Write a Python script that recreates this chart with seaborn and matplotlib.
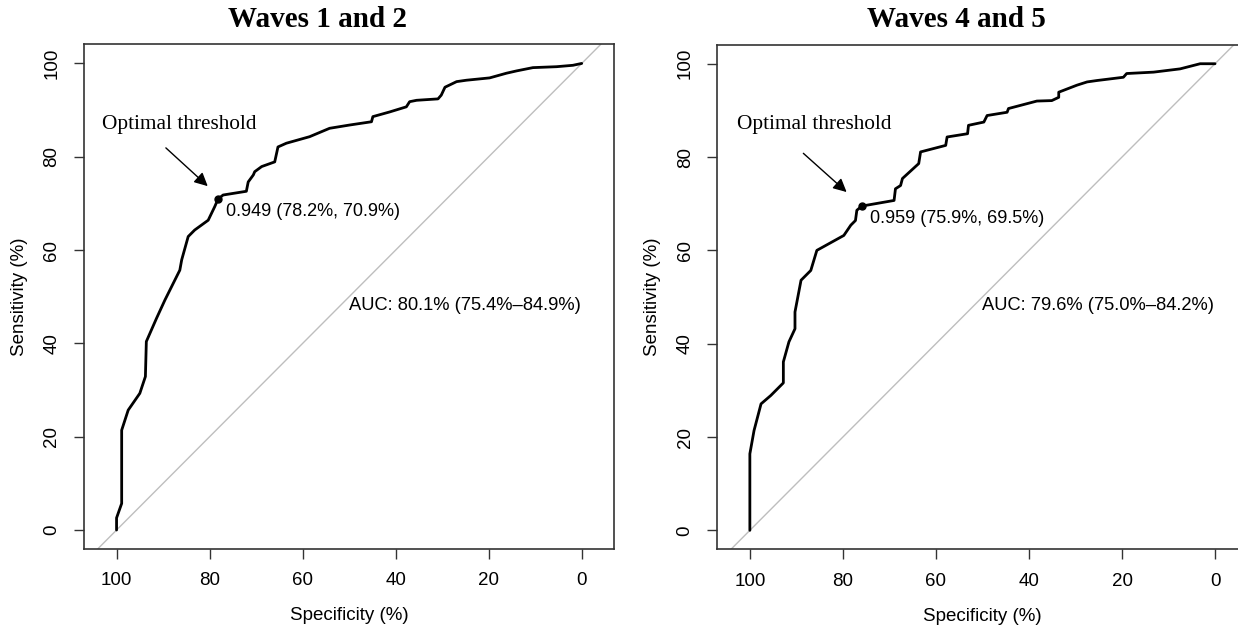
import numpy as np
import pandas as pd
import matplotlib
matplotlib.use('Agg')
import matplotlib.pyplot as plt
import seaborn as sns

sns.set_style('white')
plt.rcParams['font.family'] = ['Liberation Sans', 'DejaVu Sans']
plt.rcParams['text.color'] = 'black'
plt.rcParams['axes.labelcolor'] = 'black'
plt.rcParams['xtick.color'] = 'black'
plt.rcParams['ytick.color'] = 'black'

# ROC curve: (specificity %, sensitivity %)
spec_w12 = [100, 100, 98.9, 98.9, 97.5, 95.0, 93.8, 93.6, 91.4, 89.6, 86.4, 86.0, 84.6, 83.2,
            80.3, 78.9, 78.2, 77.1, 72.1, 71.7, 70.6, 70.3, 68.8, 66.0, 65.3, 63.5, 58.5, 54.2,
            49.9, 45.2, 44.9, 41.3, 37.7, 37.0, 35.5, 30.9, 30.2, 29.4, 26.9, 24.8, 19.8, 16.2,
            14.0, 10.5, 5.4, 1.9, 0]
sens_w12 = [0, 2.6, 5.7, 21.4, 25.7, 29.3, 32.9, 40.4, 45.4, 49.3, 55.7, 57.9, 62.9, 64.3,
            66.4, 69.3, 70.9, 71.8, 72.6, 74.6, 76.1, 76.8, 77.9, 78.9, 82.1, 82.9, 84.3, 86.1,
            86.8, 87.5, 88.6, 89.6, 90.7, 91.8, 92.1, 92.4, 93.2, 94.9, 96.1, 96.4, 96.9, 97.9,
            98.4, 99.1, 99.3, 99.6, 100]

spec_w45 = [100, 100, 99.1, 97.6, 95.5, 92.8, 92.8, 91.6, 90.3, 90.3, 89.0, 86.9, 85.6, 79.8,
            78.3, 77.3, 77.0, 75.9, 69.0, 68.7, 67.6, 67.2, 63.7, 63.3, 57.9, 57.6, 53.2, 53.0,
            49.7, 49.0, 44.7, 44.4, 38.3, 35.1, 33.6, 33.6, 29.7, 27.5, 25.4, 19.7, 19.0, 13.2,
            7.5, 3.2, 0]
sens_w45 = [0, 16.4, 21.4, 27.1, 28.9, 31.6, 36.1, 40.4, 43.2, 46.8, 53.6, 55.7, 60.0, 63.2,
            65.4, 66.4, 68.6, 69.5, 70.7, 73.2, 73.9, 75.4, 78.6, 81.1, 82.5, 84.3, 85.0, 86.8,
            87.5, 88.9, 89.6, 90.4, 92.0, 92.1, 92.8, 93.9, 95.4, 96.1, 96.4, 97.1, 97.9, 98.2,
            98.9, 100, 100]

titles = ['Waves 1 and 2', 'Waves 4 and 5']
thresholds = [0.949, 0.959]
best_spec = [78.2, 75.9]
best_sens = [70.9, 69.5]
auc = [80.1, 79.6]
auc_lo = [75.4, 75.0]
auc_hi = [84.9, 84.2]

curves = [(spec_w12, sens_w12), (spec_w45, sens_w45)]

W, H = 1238, 629
fig = plt.figure(figsize=(W / 100, H / 100), dpi=100)

# axes boxes in pixels: left, bottom spine, width, height
boxes = [(84, 548.7, 530.3, 504.4), (717.3, 549, 530.3, 504.4)]
title_x = [317, 956]
arrows = [((89.4, 81.9), (80.4, 73.7)), ((88.5, 80.8), (79.2, 72.5))]
label_xy = [(103.2, 87.0), (102.8, 86.9)]

for i in range(2):
    l, b, w, h = boxes[i]
    ax = fig.add_axes([l / W, 1 - b / H, w / W, h / H])
    spec, sens = curves[i]
    df = pd.DataFrame({'spec': spec, 'sens': sens})

    ax.axline((100, 0), (0, 100), color='#BEBEBE', lw=1, zorder=1)
    sns.lineplot(data=df, x='spec', y='sens', sort=False, estimator=None,
                 color='black', lw=2, ax=ax, zorder=3)

    ax.set_xlim(107, -7)
    ax.set_ylim(-4, 104.1)
    ax.set_xticks([100, 80, 60, 40, 20, 0])
    ax.set_yticks([0, 20, 40, 60, 80, 100])
    ax.tick_params(direction='out', length=7, width=1, color='#333333',
                   labelsize=13.5, pad=10, bottom=True, left=True)
    for lab in ax.get_yticklabels():
        lab.set_rotation(90)
        lab.set_va('center')
    for s in ax.spines.values():
        s.set_color('#333333')
        s.set_linewidth(1.2)
    ax.set_xlabel('Specificity (%)', fontsize=13.5, labelpad=13)
    ax.set_ylabel('Sensitivity (%)', fontsize=13.5, labelpad=11)

    # optimal threshold
    ax.plot(best_spec[i], best_sens[i], 'o', color='black', ms=5, zorder=4)
    ax.annotate(f'{thresholds[i]:.3f} ({best_spec[i]:.1f}%, {best_sens[i]:.1f}%)',
                xy=(best_spec[i], best_sens[i]), xytext=(6, -3),
                textcoords='offset points', ha='left', va='top', fontsize=13)
    ax.annotate('', xy=arrows[i][1], xytext=arrows[i][0],
                arrowprops=dict(arrowstyle='-|>', color='black', lw=1,
                                mutation_scale=20, shrinkA=0, shrinkB=0))
    ax.text(label_xy[i][0], label_xy[i][1], 'Optimal threshold', ha='left', va='center',
            fontsize=15.3, family=['Liberation Serif', 'DejaVu Serif'])

    ax.text(50, 50, f'AUC: {auc[i]:.1f}% ({auc_lo[i]:.1f}%\u2013{auc_hi[i]:.1f}%)',
            ha='left', va='top', fontsize=13.2)

    fig.text(title_x[i] / W, 1 - 27 / H, titles[i], ha='center', va='baseline',
             fontsize=21, fontweight='bold', family=['Liberation Serif', 'DejaVu Serif'])

fig.savefig('out.png', dpi=100)
